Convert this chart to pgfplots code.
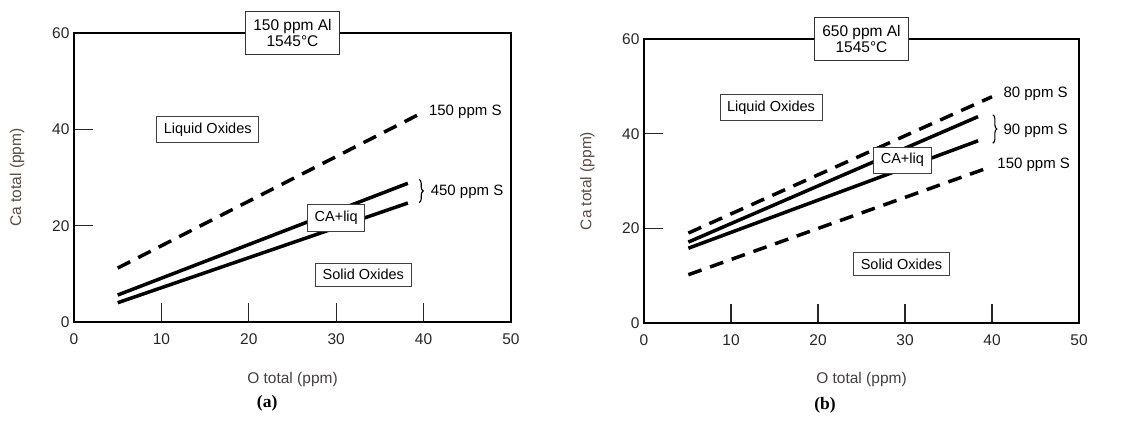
\documentclass[border=0pt]{standalone}
\usepackage{pgfplots}
\pgfplotsset{compat=1.18}
\usepackage{fontspec}
\setmainfont{Liberation Sans}
\newfontfamily\capfont{Liberation Serif}
\usetikzlibrary{decorations.pathreplacing}
\definecolor{ylab}{HTML}{5A4A42}
\definecolor{xlab}{HTML}{454040}
\newcommand{\fs}[1]{\fontsize{#1}{#1}\selectfont}
\pgfplotsset{
  panel/.style={
    scale only axis, clip=false,
    xmin=0, xmax=50, ymin=0, ymax=60,
    xtick={0,10,20,30,40,50}, ytick={0,20,40,60},
    tick align=inside, tick pos=left,
    major tick length=19pt,
    tick style={line width=1.1pt, black!85},
    axis line style={line width=2.8pt},
    /pgf/number format/assume math mode=true,
    ticklabel style={font=\fs{15.5}, text=black!85},
    xticklabel style={yshift=-8pt},
    yticklabel style={xshift=-1pt},
    xlabel={O total (ppm)}, ylabel={Ca total (ppm)},
    xlabel style={font=\fs{15.5}, text=xlab, at={(axis description cs:0.5,-0.2)}, anchor=center},
    ylabel style={font=\fs{15.5}, text=ylab, at={(axis description cs:-0.13,0.5)}, anchor=center},
  },
  solidl/.style={black, line width=3.5pt, no marks},
  dashl/.style={black, line width=3.5pt, no marks, dash pattern=on 14pt off 9pt},
}
\tikzset{
  lbox/.style={draw=black!75, line width=0.8pt, fill=white, inner xsep=7pt, inner ysep=6.5pt, font=\fs{14.5}},
  tbox/.style={draw=black!80, line width=0.9pt, fill=white, inner xsep=8pt, inner ysep=8pt, font=\fs{15.5}, align=center},
  lab/.style={anchor=west, font=\fs{15}, inner sep=0pt},
}
\begin{document}
\begin{tikzpicture}[x=1pt,y=1pt]
\useasboundingbox (0,0) rectangle (1138,421);
% ---------------- panel (a)
\begin{axis}[panel, at={(74pt,99pt)}, anchor=south west, width=437pt, height=289pt]
\addplot[dashl] coordinates {(5,11.2) (40,43.6)};
\addplot[solidl] coordinates {(5,5.6) (38.2,28.8)};
\addplot[solidl] coordinates {(5,4.0) (38.2,24.7)};
\node[tbox] at (axis cs:25,60) {150 ppm Al\\[1pt]1545°C};
\node[lbox] at (axis cs:15.3,40) {Liquid Oxides};
\node[lbox] at (axis cs:30,21.6) {CA+liq};
\node[lbox] at (axis cs:33.1,9.8) {Solid Oxides};
\node[lab] at (axis cs:40.6,43.7) {150 ppm S};
\draw[line width=1.1pt, decorate, decoration={brace, amplitude=4pt}] (axis cs:39.5,29.6) -- (axis cs:39.5,24.8);
\node[lab] at (axis cs:40.8,27.1) {450 ppm S};
\node[font=\capfont\bfseries\fs{17.5}] at (axis description cs:0.442,-0.28) {(a)};
\end{axis}
% ---------------- panel (b)
\begin{axis}[panel, at={(644pt,98pt)}, anchor=south west, width=435pt, height=284pt]
\addplot[dashl] coordinates {(5.1,19.0) (40,47.8)};
\addplot[solidl] coordinates {(5.1,17.1) (38.4,43.6)};
\addplot[solidl] coordinates {(5.1,15.8) (38.4,38.5)};
\addplot[dashl] coordinates {(5.1,10.2) (39.4,32.7)};
\node[tbox] at (axis cs:25,60) {650 ppm Al\\[1pt]1545°C};
\node[lbox] at (axis cs:14.6,45.5) {Liquid Oxides};
\node[lbox] at (axis cs:29.7,34.4) {CA+liq};
\node[lbox] at (axis cs:29.6,12.5) {Solid Oxides};
\node[lab] at (axis cs:41.3,48.5) {80 ppm S};
\draw[line width=1.1pt, decorate, decoration={brace, amplitude=4pt}] (axis cs:40.1,44.0) -- (axis cs:40.1,38.0);
\node[lab] at (axis cs:41.3,40.7) {90 ppm S};
\node[lab] at (axis cs:40.6,33.5) {150 ppm S};
\node[font=\capfont\bfseries\fs{17.5}] at (axis description cs:0.416,-0.289) {(b)};
\end{axis}
\end{tikzpicture}
\end{document}
